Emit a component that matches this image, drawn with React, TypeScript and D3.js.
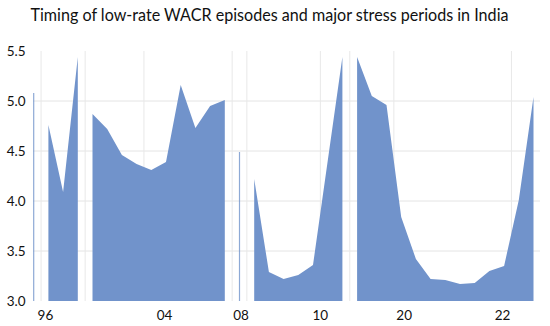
import React from "react";
import * as d3 from "d3";

const title = "Timing of low-rate WACR episodes and major stress periods in India";

// category index of each observation and its episode id
const episodes: number[] = [
  0,
  1, 1, 1,
  2, 2, 2, 2, 2, 2, 2, 2, 2, 2,
  3,
  4, 4, 4, 4, 4, 4, 4,
  5, 5, 5, 5, 5, 5, 5, 5, 5, 5, 5, 5, 5,
];

const values: number[] = [
  5.08,
  4.76, 4.09, 5.44,
  4.87, 4.72, 4.46, 4.37, 4.31, 4.39, 5.16, 4.73, 4.95, 5.01,
  4.49,
  4.22, 3.29, 3.22, 3.26, 3.36, 4.40, 5.44,
  5.44, 5.05, 4.96, 3.84, 3.42, 3.22, 3.21, 3.17, 3.18, 3.30, 3.35, 4.01, 5.04,
];

const yTicks: number[] = [3.0, 3.5, 4.0, 4.5, 5.0, 5.5];
const yGrid: number[] = [3.5, 4.0, 4.5, 5.0];
const xTickLabels: string[] = ["96", "04", "08", "10", "20", "22"];
const xTickCats: number[] = [0.8, 8.9, 14.1, 19.5, 25.2, 31.9];
const xGridCats: number[] = [0.5, 3.5, 7.5, 13.5, 14.5, 19.5, 21.5, 24.5, 32.5];

const W = 550;
const H = 326;
const FILL = "#7193CB";
const FONT = "Lato, 'Open Sans', sans-serif";

export default function App() {
  const x = d3.scaleLinear().domain([0, values.length - 1]).range([33.7, 533.5]);
  const y = d3.scaleLinear().domain([3.0, 5.5]).range([301, 51]);

  const data = values.map((v, i) => ({ i, v, ep: episodes[i] }));
  const groups = d3.groups(data, (d) => d.ep).map((g) => g[1]);

  const area = d3
    .area<{ i: number; v: number }>()
    .x((d) => x(d.i))
    .y0(y(3.0))
    .y1((d) => y(d.v));

  return (
    <svg
      width={W}
      height={H}
      style={{ position: "absolute", left: 0, top: 0, background: "#fff" }}
      fontFamily={FONT}
    >
      <rect width={W} height={H} fill="#fff" />
      <text
        x={269.5}
        y={20.5}
        textAnchor="middle"
        fontSize={16.3}
        fill="#111"
        textLength={478}
        lengthAdjust="spacingAndGlyphs"
      >
        {title}
      </text>
      {yGrid.map((t) => (
        <line key={"hg" + t} x1={33} x2={540} y1={y(t)} y2={y(t)} stroke="#e4e4e4" strokeWidth={1} />
      ))}
      {xGridCats.map((c) => (
        <line key={"vg" + c} x1={x(c)} x2={x(c)} y1={y(5.5)} y2={y(3.0)} stroke="#e8e8e8" strokeWidth={1} />
      ))}
      {groups.map((g, k) =>
        g.length > 1 ? (
          <path key={"a" + k} d={area(g) || ""} fill={FILL} />
        ) : (
          <line
            key={"a" + k}
            x1={x(g[0].i)}
            x2={x(g[0].i)}
            y1={y(3.0)}
            y2={y(g[0].v)}
            stroke={FILL}
            strokeOpacity={0.8}
            strokeWidth={1.2}
          />
        )
      )}
      {yTicks.map((t) => (
        <text key={"yl" + t} x={25.5} y={y(t)} dy="0.35em" textAnchor="end" fontSize={13.5} fill="#111">
          {t.toFixed(1)}
        </text>
      ))}
      {xTickLabels.map((l, k) => (
        <text key={"xl" + l} x={x(xTickCats[k])} y={320} textAnchor="middle" fontSize={13.5} fill="#111">
          {l}
        </text>
      ))}
    </svg>
  );
}
